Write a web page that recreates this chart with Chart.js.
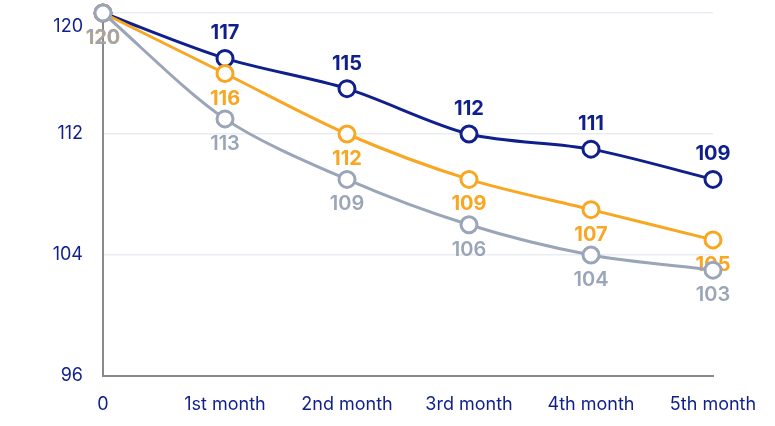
<!DOCTYPE html>
<html lang="en">
<head>
    <meta charset="UTF-8">
    <title>Monthly trend</title>
    <script src="https://cdn.jsdelivr.net/npm/chart.js"></script>
    <style>
        html, body { margin: 0; padding: 0; background: #fff; }
        #wrap { width: 775px; height: 426px; }
    </style>
</head>
<body>
    <div id="wrap"><canvas id="grafico"></canvas></div>

    <script>
        // dados
        const meses = ['0', '1st month', '2nd month', '3rd month', '4th month', '5th month'];
        const serieAzul = [120, 117, 115, 112, 111, 109];
        const serieLaranja = [120, 116, 112, 109, 107, 105];
        const serieCinza = [120, 113, 109, 106, 104, 103];
        const ticksY = [96, 104, 112, 120];

        const AZUL = '#0f1f8c';
        const LARANJA = '#f9a623';
        const CINZA = '#9aa5b8';
        const FONTE = 'Inter, "Noto Sans", sans-serif';

        // rótulos de valor: em cima para a série azul, embaixo para as outras
        const rotulosPlugin = {
            id: 'rotulos',
            afterDatasetDraw(chart, args) {
                const ds = chart.data.datasets[args.index];
                const ctx = chart.ctx;
                ctx.save();
                ctx.font = (ds.labelWeight || 'bold') + ' 20px ' + FONTE;
                ctx.fillStyle = ds.borderColor;
                ctx.textAlign = 'center';
                ctx.textBaseline = 'middle';
                args.meta.data.forEach((pt, i) => {
                    const dy = ds.labelPos === 'top' ? -25 : 25;
                    ctx.fillText(ds.data[i], pt.x, pt.y + dy);
                });
                ctx.restore();
            }
        };

        function serie(dados, cor, pos, ordem, peso) {
            return {
                data: dados,
                borderColor: cor,
                backgroundColor: '#fff',
                borderWidth: 3,
                tension: 0.3,
                pointRadius: 8,
                pointBorderWidth: 3,
                pointBackgroundColor: '#fff',
                pointBorderColor: cor,
                clip: false,
                labelPos: pos,
                labelWeight: peso,
                order: ordem
            };
        }

        const ctx = document.getElementById('grafico').getContext('2d');
        new Chart(ctx, {
            type: 'line',
            data: {
                labels: meses,
                datasets: [
                    serie(serieAzul, AZUL, 'top', 2, 'bold'),
                    serie(serieLaranja, LARANJA, 'bottom', 1, 'bold'),
                    serie(serieCinza, CINZA, 'bottom', 0, '600')
                ]
            },
            options: {
                responsive: true,
                maintainAspectRatio: false,
                animation: false,
                layout: {
                    autoPadding: false,
                    padding: { top: 13, right: 62, bottom: 0, left: 0 }
                },
                plugins: {
                    legend: { display: false },
                    tooltip: { enabled: false }
                },
                scales: {
                    x: {
                        offset: false,
                        afterFit(axis) { axis.height = 50; },
                        grid: { display: false, drawTicks: false },
                        border: { color: '#8a8a8a', width: 2 },
                        ticks: {
                            color: AZUL,
                            padding: 18,
                            maxRotation: 0,
                            font: { family: FONTE, size: 18 }
                        }
                    },
                    y: {
                        min: 96,
                        max: 120,
                        afterBuildTicks(axis) {
                            axis.ticks = ticksY.map(v => ({ value: v }));
                        },
                        afterFit(axis) {
                            axis.width = 103;
                            axis.paddingTop = 0;
                            axis.paddingBottom = 0;
                        },
                        grid: { color: '#e8ecf3', lineWidth: 1.5, drawTicks: false },
                        border: { color: '#8a8a8a', width: 2 },
                        ticks: {
                            color: AZUL,
                            padding: 20,
                            font: { family: FONTE, size: 18, lineHeight: 1.55 },
                            // o rótulo 120 fica um pouco abaixo da linha
                            callback: v => v === 120 ? ['', String(v)] : String(v)
                        }
                    }
                }
            },
            plugins: [rotulosPlugin]
        });
    </script>
</body>
</html>
